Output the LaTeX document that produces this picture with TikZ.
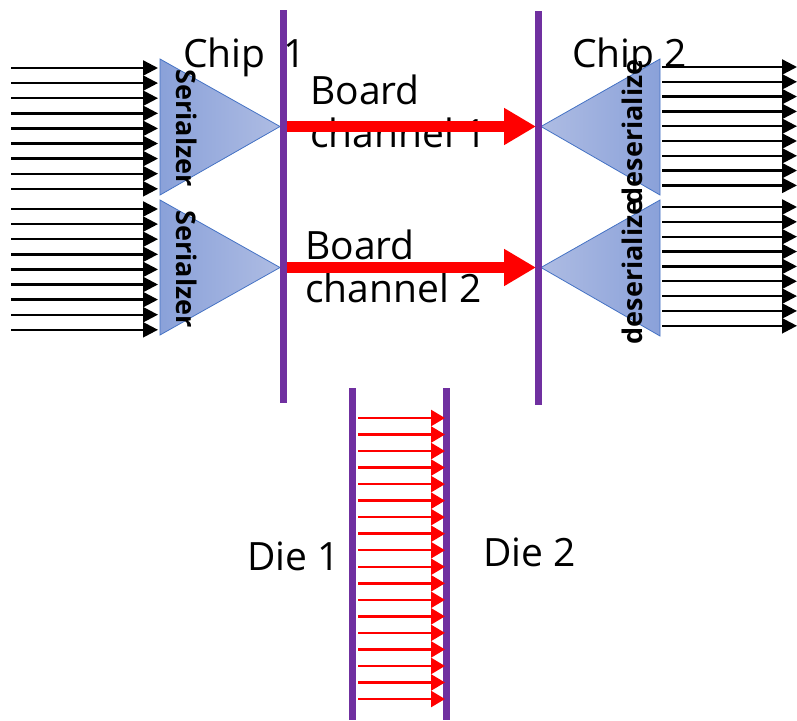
\documentclass[tikz,border=0pt]{standalone}
\usepackage{fontspec}
\setmainfont{Open Sans}
\usetikzlibrary{arrows.meta}
\definecolor{chippurple}{HTML}{7030A0}
\definecolor{serblue}{HTML}{4472C4}
\definecolor{serdark}{HTML}{8AA1D9}
\definecolor{serlight}{HTML}{AEBCE3}
\begin{document}
\begin{tikzpicture}[x=1pt,y=-1pt,
  chipline/.style={draw=chippurple, line width=7pt},
  sershape/.style={draw=serblue, line width=0.8pt, left color=serdark, right color=serlight},
  desshape/.style={draw=serblue, line width=0.8pt, left color=serlight, right color=serdark},
  busarrow/.style={-{Triangle[length=15pt,width=15pt]}, line width=2.4pt, black},
  boardarrow/.style={-{Triangle[length=32pt,width=35pt]}, line width=11pt, red},
  diearrow/.style={-{Triangle[length=14pt,width=16pt]}, line width=2.5pt, red},
  lbl/.style={font=\fontsize{39}{43}\selectfont, inner sep=0pt, anchor=base west, align=left},
  vlbl/.style={font=\fontsize{27}{30}\bfseries\selectfont, inner sep=0pt}
]
\useasboundingbox (0,0) rectangle (797,720);

% labels
\node[lbl] (chip1) at (183,67) {Chip\hspace{0.45em}1};
\node[lbl] (chip2) at (572,67) {Chip 2};
\node[lbl] (bc1) at (310,147) {Board\\channel 1};
\node[lbl] (bc2) at (305,302) {Board\\channel 2};
\node[lbl] (die1) at (247,570) {Die 1};
\node[lbl] (die2) at (483,566) {Die 2};

% serializer triangles
\path[sershape] (160,59) coordinate (s1top) -- (280,126.5) coordinate (s1tip) -- (160,195) coordinate (s1bot) -- cycle;
\path[sershape] (160,200) coordinate (s2top) -- (280,267.5) coordinate (s2tip) -- (160,335) coordinate (s2bot) -- cycle;
% deserializer triangles
\path[desshape] (660,59) coordinate (d1top) -- (541,126.5) coordinate (d1tip) -- (660,195) coordinate (d1bot) -- cycle;
\path[desshape] (660,200) coordinate (d2top) -- (541,267.5) coordinate (d2tip) -- (660,336) coordinate (d2bot) -- cycle;

% parallel buses
\foreach \i in {0,...,8} {
  \coordinate (ia\i) at (11,{68+\i*15.1});
  \coordinate (ib\i) at (158,{68+\i*15.1});
  \draw[busarrow] (ia\i) -- (ib\i);
  \coordinate (ic\i) at (11,{209+\i*15.1});
  \coordinate (id\i) at (158,{209+\i*15.1});
  \draw[busarrow] (ic\i) -- (id\i);
  \coordinate (oa\i) at (662,{67+\i*14.8});
  \coordinate (ob\i) at (797,{67+\i*14.8});
  \draw[busarrow] (oa\i) -- (ob\i);
  \coordinate (oc\i) at (662,{207+\i*14.85});
  \coordinate (od\i) at (797,{207+\i*14.85});
  \draw[busarrow] (oc\i) -- (od\i);
}

% rotated labels
\node[vlbl, rotate=-90] (ser1) at (187,128) {Serialzer};
\node[vlbl, rotate=-90] (ser2) at (187,269) {Serialzer};
\node[vlbl, rotate=90] (des1) at (632,132) {deserialize};
\node[vlbl, rotate=90] (des2) at (632,272) {deserialize};

% chip boundaries
\coordinate (c1t) at (283,10);  \coordinate (c1b) at (283,403);
\coordinate (c2t) at (538,11);  \coordinate (c2b) at (538,405);
\draw[chipline] (c1t) -- (c1b);
\draw[chipline] (c2t) -- (c2b);

% board channels
\coordinate (b1s) at (287,126.5); \coordinate (b1e) at (536,126.5);
\coordinate (b2s) at (287,267.5); \coordinate (b2e) at (536,267.5);
\draw[boardarrow] (b1s) -- (b1e);
\draw[boardarrow] (b2s) -- (b2e);

% die boundaries
\coordinate (e1t) at (352,388); \coordinate (e1b) at (352,720);
\coordinate (e2t) at (446,388); \coordinate (e2b) at (446,720);
\draw[chipline] (e1t) -- (e1b);
\draw[chipline] (e2t) -- (e2b);

% die-to-die wires
\foreach \i in {0,...,17} {
  \coordinate (wa\i) at (358,{418+\i*16.53});
  \coordinate (wb\i) at (445,{418+\i*16.53});
  \draw[diearrow] (wa\i) -- (wb\i);
}
\end{tikzpicture}
\end{document}
